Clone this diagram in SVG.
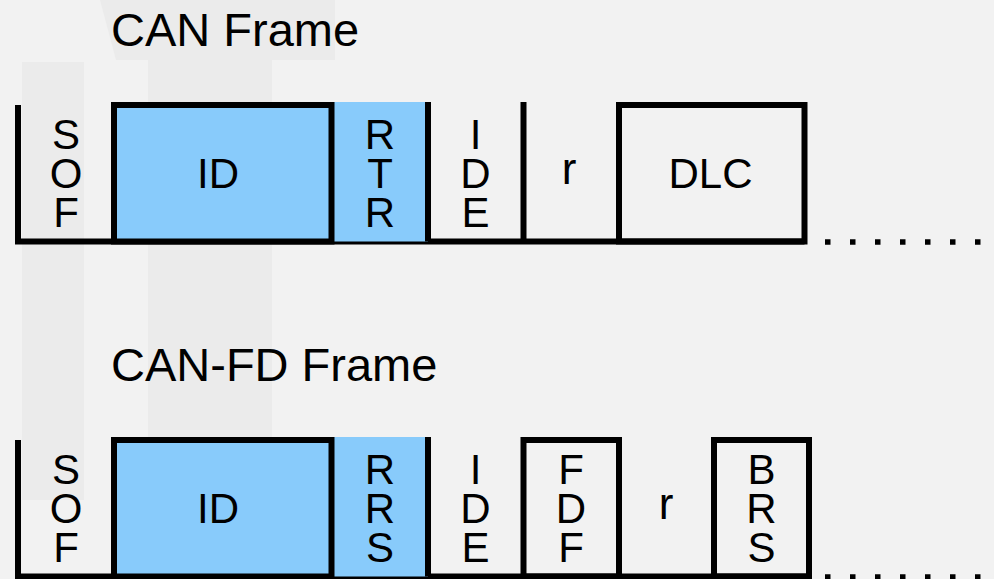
<svg xmlns="http://www.w3.org/2000/svg" width="994" height="579" viewBox="0 0 994 579">
  <style>
    .bg { fill: #f2f2f2; }
    .mark { fill: #ebebeb; }
    .sig { fill: none; stroke: #000; stroke-width: 6; stroke-linejoin: miter; stroke-linecap: butt; }
    .box { fill: none; stroke: #000; stroke-width: 6; }
    .blue { fill: #88cbfb; }
    .boxblue { fill: #88cbfb; stroke: #000; stroke-width: 6; }
    .dot { fill: #000; }
    .lbl { font-family: "Liberation Sans", Arial, sans-serif; font-size: 42px; fill: #000; text-anchor: middle; }
    .small { font-size: 44px; }
    .title { font-family: "Liberation Sans", Arial, sans-serif; font-size: 47px; fill: #000; }
  </style>
  <defs>
    <!-- trailing "more bits follow" dots -->
    <g id="ellipsis">
      <rect class="dot" x="825" y="239.25" width="5.5" height="5.5"/>
      <rect class="dot" x="850" y="239.25" width="5.5" height="5.5"/>
      <rect class="dot" x="875" y="239.25" width="5.5" height="5.5"/>
      <rect class="dot" x="900" y="239.25" width="5.5" height="5.5"/>
      <rect class="dot" x="925" y="239.25" width="5.5" height="5.5"/>
      <rect class="dot" x="950" y="239.25" width="5.5" height="5.5"/>
      <rect class="dot" x="975" y="239.25" width="5.5" height="5.5"/>
    </g>
  </defs>

  <!-- background with faint watermark bands -->
  <rect class="bg" x="0" y="0" width="994" height="579"/>
  <g id="watermark">
    <path class="mark" d="M100,0 H335 V60 H272 V0 Z"/>
    <path class="mark" d="M100,0 Q108,30 116,60 H148 V0 Z"/>
    <rect class="mark" x="148" y="0" width="124" height="510"/>
    <rect class="mark" x="22" y="62" width="62" height="438"/>
  </g>

  <!-- ===== Classic CAN frame ===== -->
  <g id="can-frame">
    <text id="can-title" class="title" x="111" y="46">CAN Frame</text>

    <g id="connectors-can">
      <path class="sig" d="M18,105 V241.5 H804.5"/>
      <use href="#ellipsis"/>
    </g>

    <g id="can-sof">
      <text class="lbl"><tspan x="66" y="148.5">S</tspan><tspan x="66" y="187.5">O</tspan><tspan x="66" y="226.5">F</tspan></text>
    </g>
    <g id="can-rtr">
      <rect class="blue" x="331.5" y="102" width="96.5" height="139.5"/>
      <path class="sig" d="M428,102 V241.5"/>
      <text class="lbl"><tspan x="380" y="148.5">R</tspan><tspan x="380" y="187.5">T</tspan><tspan x="380" y="226.5">R</tspan></text>
    </g>
    <g id="can-id">
      <rect class="boxblue" x="114" y="105" width="217.5" height="136.5"/>
      <text class="lbl" x="218" y="187.5">ID</text>
    </g>
    <g id="can-ide">
      <path class="sig" d="M523.5,102 V241.5"/>
      <text class="lbl"><tspan x="475.5" y="148.5">I</tspan><tspan x="475.5" y="187.5">D</tspan><tspan x="475.5" y="226.5">E</tspan></text>
    </g>
    <g id="can-r">
      <text class="lbl small" x="569" y="183.5">r</text>
    </g>
    <g id="can-dlc">
      <rect class="box" x="619" y="105" width="185.5" height="136.5"/>
      <text class="lbl" x="710.5" y="187.5">DLC</text>
    </g>
  </g>

  <!-- ===== CAN-FD frame ===== -->
  <g id="canfd-frame" transform="translate(0,335)">
    <text id="canfd-title" class="title" x="111" y="46">CAN-FD Frame</text>

    <g id="connectors-canfd">
      <path class="sig" d="M18,105 V241.5 H809"/>
      <use href="#ellipsis"/>
    </g>

    <g id="canfd-sof">
      <text class="lbl"><tspan x="66" y="148.5">S</tspan><tspan x="66" y="187.5">O</tspan><tspan x="66" y="226.5">F</tspan></text>
    </g>
    <g id="canfd-rrs">
      <rect class="blue" x="331.5" y="102" width="96.5" height="139.5"/>
      <path class="sig" d="M428,102 V241.5"/>
      <text class="lbl"><tspan x="380" y="148.5">R</tspan><tspan x="380" y="187.5">R</tspan><tspan x="380" y="226.5">S</tspan></text>
    </g>
    <g id="canfd-id">
      <rect class="boxblue" x="114" y="105" width="217.5" height="136.5"/>
      <text class="lbl" x="218" y="187.5">ID</text>
    </g>
    <g id="canfd-ide">
      <text class="lbl"><tspan x="475.5" y="148.5">I</tspan><tspan x="475.5" y="187.5">D</tspan><tspan x="475.5" y="226.5">E</tspan></text>
    </g>
    <g id="canfd-fdf">
      <rect class="box" x="523.5" y="105" width="95.5" height="136.5"/>
      <text class="lbl"><tspan x="571" y="148.5">F</tspan><tspan x="571" y="187.5">D</tspan><tspan x="571" y="226.5">F</tspan></text>
    </g>
    <g id="canfd-r">
      <text class="lbl small" x="666" y="183.5">r</text>
    </g>
    <g id="canfd-brs">
      <rect class="box" x="714" y="105" width="95" height="136.5"/>
      <text class="lbl"><tspan x="761.5" y="148.5">B</tspan><tspan x="761.5" y="187.5">R</tspan><tspan x="761.5" y="226.5">S</tspan></text>
    </g>
  </g>
</svg>
